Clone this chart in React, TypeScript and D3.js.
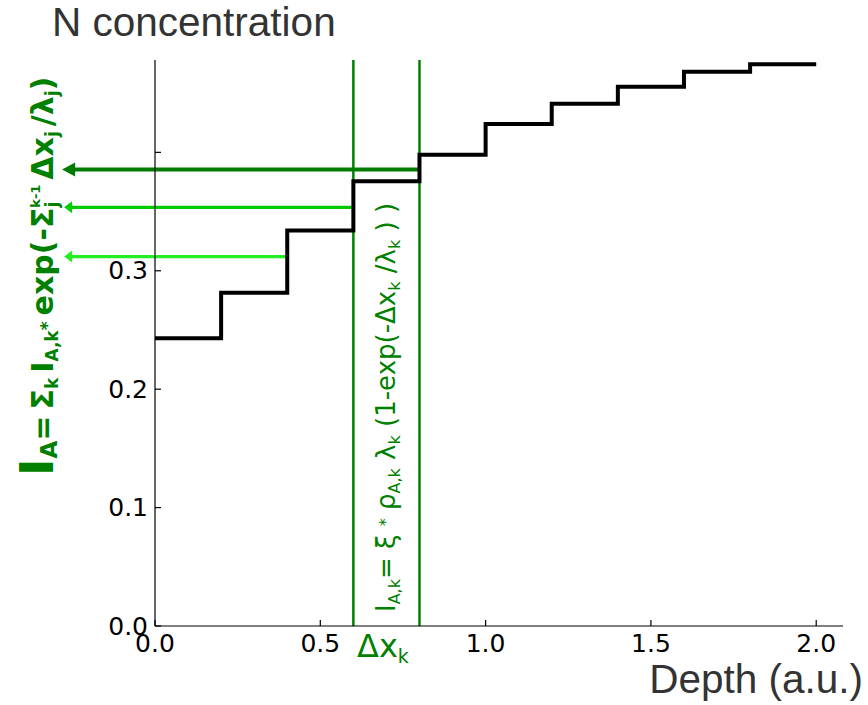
import React from "react";
import * as d3 from "d3";

const stepEdges = [0, 0.2, 0.4, 0.6, 0.8, 1.0, 1.2, 1.4, 1.6, 1.8, 2.0];
const concentration = [0.243, 0.2815, 0.334, 0.3755, 0.398, 0.424, 0.441, 0.4555, 0.468, 0.4745];
const arrowStarts = [0.4, 0.6, 0.8];
const arrowValues = [0.312, 0.3536, 0.3855];
const arrowColors = ["#22ee22", "#00cc00", "#007a00"];
const layerBounds = [0.6, 0.8];
const xTicks = [0, 0.5, 1.0, 1.5, 2.0];
const xTickLabels = ["0.0", "0.5", "1.0", "1.5", "2.0"];
const yTicks = [0, 0.1, 0.2, 0.3, 0.4];
const yTickLabels = ["0.0", "0.1", "0.2", "0.3", ""];

const GREEN = "#008000";
const TICK_FONT = "'DejaVu Sans', sans-serif";

export default function App() {
  const x = d3.scaleLinear().domain([0, 2.081]).range([155, 843]);
  const y = d3.scaleLinear().domain([0, 0.478]).range([626, 60]);

  const stepData: [number, number][] = stepEdges.map((e, i) => [
    e,
    concentration[Math.min(i, concentration.length - 1)],
  ]);
  const stepPath = d3
    .line<[number, number]>()
    .x((d) => x(d[0]))
    .y((d) => y(d[1]))
    .curve(d3.curveStepAfter)(stepData) as string;

  const arrowTipX = x(-0.281);

  return (
    <svg
      width={868}
      height={705}
      style={{ position: "absolute", left: 0, top: 0, background: "#fff" }}
    >
      {/* title */}
      <text x={52} y={36} fontFamily="'Liberation Sans', Arial, sans-serif" fontSize={40.5} fill="#333">
        N concentration
      </text>

      {/* layer boundaries */}
      {layerBounds.map((b) => (
        <line key={b} x1={x(b)} x2={x(b)} y1={y(0.478)} y2={y(0)} stroke={GREEN} strokeWidth={2.5} />
      ))}

      {/* arrows */}
      {arrowStarts.map((s, i) => {
        const yy = y(arrowValues[i]);
        const dark = i === 2;
        const hl = dark ? 13 : 10;
        const hw = dark ? 7 : 6;
        return (
          <g key={i}>
            <line
              x1={x(s)}
              x2={arrowTipX + hl - 1}
              y1={yy}
              y2={yy}
              stroke={arrowColors[i]}
              strokeWidth={dark ? 4 : 3.2}
            />
            <path
              d={`M${arrowTipX + (dark ? 0 : 2)},${yy} L${arrowTipX + hl},${yy - hw} L${arrowTipX + hl},${yy + hw} Z`}
              fill={arrowColors[i]}
            />
          </g>
        );
      })}

      {/* step profile */}
      <path d={stepPath} fill="none" stroke="#000" strokeWidth={4} strokeLinejoin="miter" />

      {/* axes */}
      <line x1={155} x2={155} y1={60} y2={626} stroke="#000" strokeWidth={1.2} />
      <line x1={155} x2={843} y1={626} y2={626} stroke="#000" strokeWidth={1.2} />
      {yTicks.map((t, i) => (
        <g key={"y" + t}>
          <line x1={155} x2={161} y1={y(t)} y2={y(t)} stroke="#000" strokeWidth={1.2} />
          <text
            x={148}
            y={y(t)}
            textAnchor="end"
            dominantBaseline="central"
            fontFamily={TICK_FONT}
            fontSize={25}
            fill="#000"
          >
            {yTickLabels[i]}
          </text>
        </g>
      ))}
      {xTicks.map((t, i) => (
        <g key={"x" + t}>
          <line x1={x(t)} x2={x(t)} y1={626} y2={620} stroke="#000" strokeWidth={1.2} />
          <text x={x(t)} y={652} textAnchor="middle" fontFamily={TICK_FONT} fontSize={25} fill="#000">
            {xTickLabels[i]}
          </text>
        </g>
      ))}

      {/* x label */}
      <text
        x={863}
        y={693}
        textAnchor="end"
        fontFamily="'Liberation Sans', Arial, sans-serif"
        fontSize={40.5}
        fill="#333"
      >
        Depth (a.u.)
      </text>

      {/* Delta x_k */}
      <text x={357} y={657} fontFamily={TICK_FONT} fontSize={32} fill={GREEN}>
        Δx
        <tspan fontSize={19} dy={6}>k</tspan>
      </text>

      {/* vertical formula inside layer */}
      <text
        transform="translate(395,612) rotate(-90)"
        fontFamily={TICK_FONT}
        fontSize={26}
        fill={GREEN}
      >
        I
        <tspan fontSize={16} dy={5}>A,k</tspan>
        <tspan dy={-5}>= ξ </tspan>
        <tspan fontSize={16} dy={-4}>*</tspan>
        <tspan dy={4}> ρ</tspan>
        <tspan fontSize={16} dy={5}>A,k</tspan>
        <tspan dy={-5}>  λ</tspan>
        <tspan fontSize={16} dy={5}>k</tspan>
        <tspan dy={-5}> (1-exp(-Δx</tspan>
        <tspan fontSize={16} dy={5}>k</tspan>
        <tspan dy={-5}> /λ</tspan>
        <tspan fontSize={16} dy={5}>k</tspan>
        <tspan dy={-5}> ) )</tspan>
      </text>

      {/* left bold formula */}
      <text
        transform="translate(53,476) rotate(-90)"
        fontFamily={TICK_FONT}
        fontWeight="bold"
        fontSize={30}
        fill={GREEN}
      >
        <tspan fontSize={47}>I</tspan>
        <tspan fontSize={23} dy={4}>A</tspan>
        <tspan dy={-4}>=</tspan>
        <tspan dx={6}>Σ</tspan>
        <tspan fontSize={17} dy={5}>k</tspan>
        <tspan dx={5} dy={-5}>I</tspan>
        <tspan fontSize={17} dy={5}>A,k</tspan>
        <tspan fontSize={17} dy={-5}>*</tspan>
        <tspan dx={6}>exp(-Σ</tspan>
        <tspan fontSize={17} dy={5}>j</tspan>
        <tspan fontSize={13} dx={-6} dy={-18}>k-1</tspan>
        <tspan dx={5} dy={13}>Δx</tspan>
        <tspan fontSize={17} dy={5}>j</tspan>
        <tspan dx={5} dy={-5}>/λ</tspan>
        <tspan fontSize={17} dy={5}>j</tspan>
        <tspan dy={-5}>)</tspan>
      </text>
    </svg>
  );
}
